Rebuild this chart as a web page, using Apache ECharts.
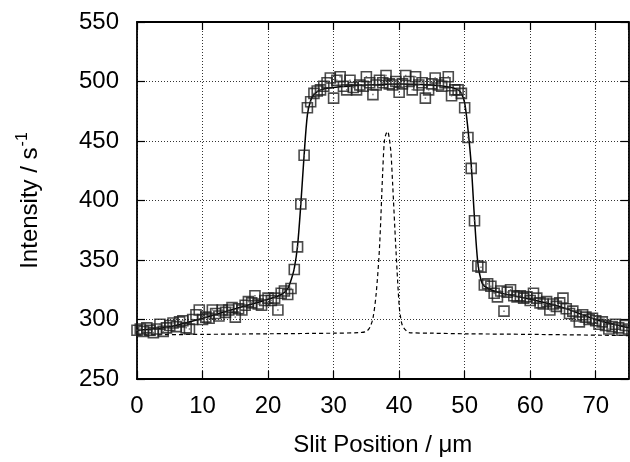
<!DOCTYPE html>
<html>
<head>
<meta charset="utf-8">
<script src="https://cdn.jsdelivr.net/npm/echarts@6/dist/echarts.min.js"></script>
<style>
html,body{margin:0;padding:0;background:#fff;}
#chart{width:630px;height:462px;}
</style>
</head>
<body>
<div id="chart"></div>
<script>
// Measured data points (slit position in µm, intensity in 1/s)
const positions = [0,0.5,1,1.5,2,2.5,3,3.5,4,4.5,5,5.5,6,6.5,7,7.5,8,8.5,9,9.5,
  10,10.5,11,11.5,12,12.5,13,13.5,14,14.5,15,15.5,16,16.5,17,17.5,18,18.5,19,19.5,
  20,20.5,21,21.5,22,22.5,23,23.5,24,24.5,25,25.5,26,26.5,27,27.5,28,28.5,29,29.5,
  30,30.5,31,31.5,32,32.5,33,33.5,34,34.5,35,35.5,36,36.5,37,37.5,38,38.5,39,39.5,
  40,40.5,41,41.5,42,42.5,43,43.5,44,44.5,45,45.5,46,46.5,47,47.5,48,48.5,49,49.5,
  50,50.5,51,51.5,52,52.5,53,53.5,54,54.5,55,55.5,56,56.5,57,57.5,58,58.5,59,59.5,
  60,60.5,61,61.5,62,62.5,63,63.5,64,64.5,65,65.5,66,66.5,67,67.5,68,68.5,69,69.5,
  70,70.5,71,71.5,72,72.5,73,73.5,74,74.5,75];
const intensities = [291,292,290,293,291,289,292,296,290,293,295,297,294,298,299,293,292,300,304,308,
  300,302,301,308,305,303,308,306,308,310,302,309,308,312,315,314,320,313,312,316,
  318,316,318,308,322,324,321,326,342,361,397,438,478,483,490,492,493,496,499,503,
  486,501,504,496,493,501,495,493,497,496,504,499,489,497,501,499,505,498,497,500,
  491,498,505,500,493,504,497,499,486,493,498,503,497,496,499,504,488,493,493,490,
  478,453,427,383,345,344,329,330,328,322,319,324,307,323,325,320,319,320,318,319,
  316,322,318,314,313,315,308,313,311,314,318,309,305,307,303,298,304,302,300,301,
  299,296,298,295,292,294,296,293,291,295,292];

// Fitted curve (solid line)
const fitX = [0,5,10,15,20,22,23,23.5,24,24.5,25,25.5,26,26.5,27,28,30,35,40,45,48,49,49.5,50,50.5,51,51.5,52,52.5,53,55,60,65,70,75];
const fitY = [291,294,301,309,317,321,326,333,343,362,397,438,472,484,489,493,495,497,498,497,495,493,490,482,460,430,385,348,333,328,323,317,310,300,293];

// Instrument response (dashed line)
const irfX = [0,10,20,30,34,35,35.5,36,36.5,37,37.5,37.75,38,38.25,38.5,38.75,39,39.5,40,40.25,40.5,41,41.5,45,50,60,75];
const irfY = [287,287.5,288,288.5,289,290,293,301,322,360,425,450,456,458,452,440,415,360,312,301,295,291,289,288.5,288,287.5,286.5];

// Axis settings
const xTicks = {min: 0, max: 75, interval: 10};
const yTicks = {min: 250, max: 550, interval: 50};
const xTitle = 'Slit Position / \u03bcm';
const yTitle = 'Intensity / s';
const ySup = '-1';

const pts = positions.map((x, i) => [x, intensities[i]]);
const fit = fitX.map((x, i) => [x, fitY[i]]);
const irf = irfX.map((x, i) => [x, irfY[i]]);

const FONT = '"Liberation Sans", Arial, Helvetica, sans-serif';
const frame = {show: true, onZero: false, lineStyle: {color: '#000', width: 1.8}};
const ticks = {show: true, inside: true, length: 8, lineStyle: {color: '#000', width: 1.2}};
const grid = {show: true, lineStyle: {color: '#333', width: 1, type: [1, 2]}};

const chart = echarts.init(document.getElementById('chart'), null, {renderer: 'canvas'});
chart.setOption({
  animation: false,
  backgroundColor: '#fff',
  grid: {left: 137, right: 1.5, top: 22, bottom: 81, containLabel: false},
  xAxis: [{
    type: 'value', position: 'bottom', min: xTicks.min, max: xTicks.max, interval: xTicks.interval,
    axisLine: frame, axisTick: ticks, splitLine: grid,
    axisLabel: {show: true, fontFamily: FONT, fontSize: 24, color: '#000', margin: 15, showMaxLabel: false},
    name: xTitle, nameLocation: 'middle', nameGap: 54,
    nameTextStyle: {fontFamily: FONT, fontSize: 24, color: '#000'}
  }, {
    type: 'value', position: 'top', min: xTicks.min, max: xTicks.max, interval: xTicks.interval,
    axisLine: frame, axisTick: ticks, splitLine: {show: false}, axisLabel: {show: false}
  }],
  yAxis: [{
    type: 'value', position: 'left', min: yTicks.min, max: yTicks.max, interval: yTicks.interval,
    axisLine: frame, axisTick: ticks, splitLine: grid,
    axisLabel: {show: true, fontFamily: FONT, fontSize: 24, color: '#000', margin: 18},
    name: '{a|' + yTitle + '}{b|' + ySup + '}', nameLocation: 'middle', nameGap: 92, nameRotate: 90,
    nameTextStyle: {
      fontFamily: FONT, fontSize: 24, color: '#000',
      rich: {
        a: {fontFamily: FONT, fontSize: 24, color: '#000'},
        b: {fontFamily: FONT, fontSize: 16, color: '#000', verticalAlign: 'top', padding: [0, 0, 14, 1]}
      }
    }
  }, {
    type: 'value', position: 'right', min: yTicks.min, max: yTicks.max, interval: yTicks.interval,
    axisLine: frame, axisTick: ticks, splitLine: {show: false}, axisLabel: {show: false}
  }],
  series: [{
    name: 'IRF', type: 'line', data: irf, xAxisIndex: 0, yAxisIndex: 0,
    showSymbol: false, symbol: 'none', smooth: 0.3,
    lineStyle: {color: '#000', width: 1.2, type: [4, 3]}, z: 2
  }, {
    name: 'Fit', type: 'line', data: fit, xAxisIndex: 0, yAxisIndex: 0,
    showSymbol: false, symbol: 'none', smooth: 0.3,
    lineStyle: {color: '#000', width: 1.5}, z: 3
  }, {
    name: 'Data', type: 'scatter', data: pts, xAxisIndex: 0, yAxisIndex: 0,
    symbol: 'rect', symbolSize: 10,
    itemStyle: {color: 'rgba(0,0,0,0)', borderColor: '#1e1e1e', borderWidth: 1.6}, z: 4
  }, {
    name: 'DataDot', type: 'scatter', data: pts, xAxisIndex: 0, yAxisIndex: 0,
    symbol: 'rect', symbolSize: 1.5,
    itemStyle: {color: '#555'}, z: 4
  }]
});
</script>
</body>
</html>
